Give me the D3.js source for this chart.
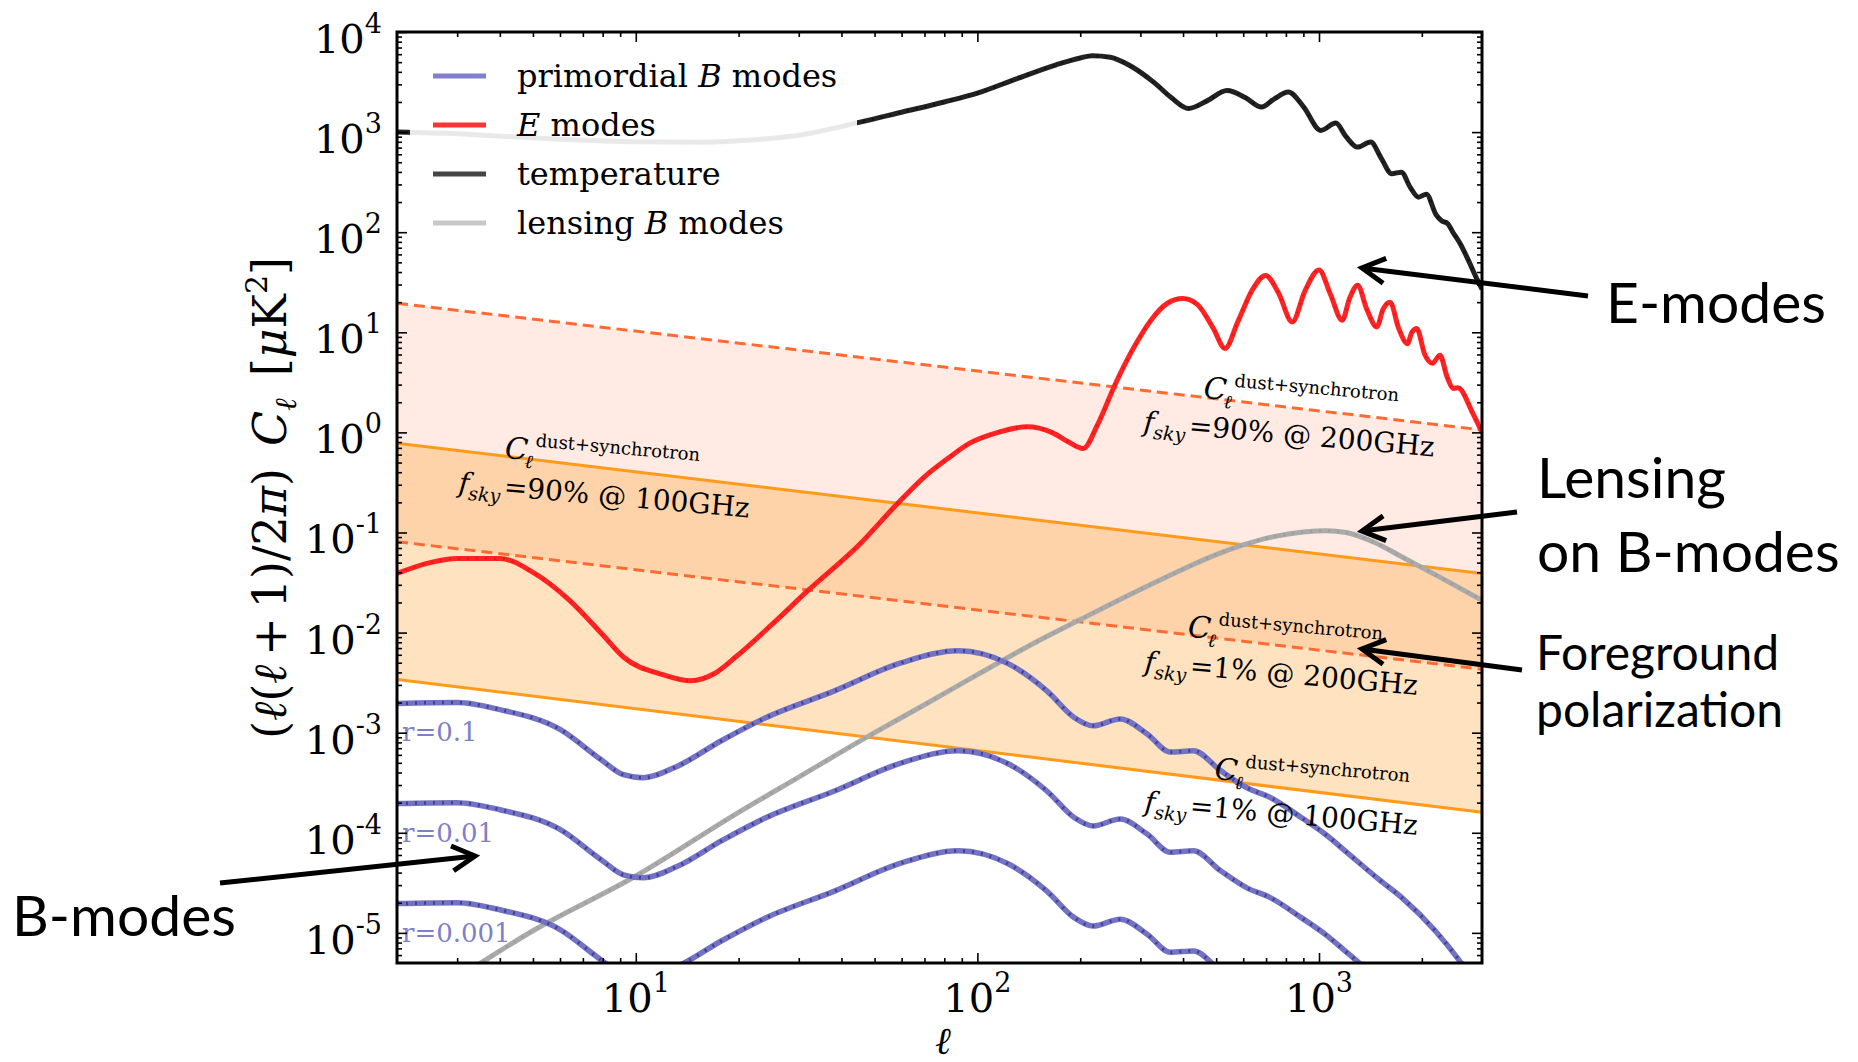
<!DOCTYPE html>
<html>
<head>
<meta charset="utf-8">
<script src="https://cdn.jsdelivr.net/npm/d3@7"></script>
<style>
  body { margin: 0; background: #fff; }
</style>
</head>
<body>
<script>
// spectra: D_l = l(l+1)C_l/2pi in uK^2
const ttEll = [2, 3, 4, 6, 10, 15, 20, 30, 45, 60, 80, 100, 130, 170, 200, 217, 245, 280, 330, 370, 415, 470, 538, 610, 679, 740, 813, 900, 1012, 1120, 1200, 1295, 1417, 1520, 1633, 1742, 1850, 1955, 2062, 2200, 2285, 2380, 2465, 2600, 2740, 2900, 3000];
const ttVal = [1000, 960, 910, 850, 800, 790, 820, 930, 1250, 1580, 2000, 2450, 3400, 4700, 5500, 5800, 5600, 4600, 3100, 2200, 1720, 2050, 2600, 2200, 1780, 2150, 2510, 1800, 1040, 1230, 900, 708, 795, 550, 384, 398, 280, 224, 240, 150, 130, 122, 100, 75, 52, 34, 27];

const eeEll = [2, 2.5, 3, 4, 5, 6.4, 8, 9.2, 12, 14.5, 17, 19.6, 25, 32, 45, 58, 70, 82, 95, 115, 140, 165, 185, 204, 225, 254, 290, 321, 360, 399, 440, 490, 531, 580, 640, 697, 760, 835, 910, 1000, 1080, 1169, 1230, 1297, 1380, 1476, 1540, 1615, 1710, 1815, 1870, 1932, 2040, 2147, 2260, 2370, 2477, 2550, 2820, 3000];
const eeVal = [0.039, 0.05, 0.055, 0.055, 0.040, 0.021, 0.0095, 0.0057, 0.0038, 0.0033, 0.0039, 0.0057, 0.012, 0.0265, 0.075, 0.19, 0.36, 0.55, 0.78, 1.0, 1.14, 1.0, 0.8, 0.69, 1.2, 3.1, 7.5, 13, 19.5, 21.7, 19, 11, 6.9, 13, 27, 37, 25, 12.7, 26, 42, 24, 13.2, 22, 29.5, 17, 11.3, 17, 20, 11, 7.7, 10, 10.9, 6, 4.9, 5.9, 3.6, 2.75, 2.8, 1.55, 1.0];

const lensEll = [2, 3, 5, 10, 20, 30, 50, 70, 100, 150, 200, 300, 400, 500, 600, 750, 900, 1050, 1200, 1450, 1750, 2250, 3000];
const lensVal = [1.7e-6, 3.6e-6, 1.05e-5, 3.7e-5, 1.6e-4, 3.6e-4, 1.0e-3, 1.9e-3, 3.8e-3, 8.2e-3, 0.0135, 0.027, 0.043, 0.06, 0.075, 0.092, 0.101, 0.104, 0.1, 0.08, 0.057, 0.036, 0.021];

const bEll = [2, 3, 4, 6, 7.9, 9.2, 10.5, 13.2, 17.8, 24, 38, 60, 88, 123, 160, 192, 218, 262, 314, 367, 429, 514, 617, 720, 887, 1050, 1211, 1500, 1747, 2188, 2620, 3000];
const bR1 = [1.96e-3, 2.0e-3, 1.7e-3, 1.08e-3, 5.4e-4, 3.8e-4, 3.55e-4, 4.6e-4, 8.3e-4, 1.41e-3, 2.6e-3, 5.0e-3, 6.6e-3, 4.9e-3, 2.6e-3, 1.42e-3, 1.17e-3, 1.37e-3, 9.7e-4, 6.4e-4, 6.6e-4, 4.2e-4, 2.8e-4, 2.25e-4, 1.42e-4, 9.5e-5, 6.3e-5, 3.4e-5, 2.25e-5, 1.05e-5, 4.9e-6, 2.5e-6];
const bR01 = [1.96e-4, 2.0e-4, 1.7e-4, 1.08e-4, 5.4e-5, 3.8e-5, 3.55e-5, 4.6e-5, 8.3e-5, 1.41e-4, 2.6e-4, 5.0e-4, 6.6e-4, 4.9e-4, 2.6e-4, 1.42e-4, 1.17e-4, 1.37e-4, 9.7e-5, 6.4e-5, 6.6e-5, 4.2e-5, 2.8e-5, 2.25e-5, 1.42e-5, 9.5e-6, 6.3e-6, 3.4e-6, 2.25e-6, 1.05e-6, 4.9e-7, 2.5e-7];
const bR001 = [1.96e-5, 2.0e-5, 1.7e-5, 1.08e-5, 5.4e-6, 3.8e-6, 3.55e-6, 4.6e-6, 8.3e-6, 1.41e-5, 2.6e-5, 5.0e-5, 6.6e-5, 4.9e-5, 2.6e-5, 1.42e-5, 1.17e-5, 1.37e-5, 9.7e-6, 6.4e-6, 6.6e-6, 4.2e-6, 2.8e-6, 2.25e-6, 1.42e-6, 9.5e-7, 6.3e-7, 3.4e-7, 2.25e-7, 1.05e-7, 4.9e-8, 2.5e-8];
const rLabels = ["r=0.1", "r=0.01", "r=0.001"];

// foreground power laws, values at the two ends of the l range
const fgEll = [2, 3000];
const fg90at200 = [19.5, 1.06];
const fg90at100 = [0.78, 0.039];
const fg1at200 = [0.081, 0.0043];
const fg1at100 = [0.0034, 0.00016];

const xTicks = [10, 100, 1000];
const yTicks = [1e-5, 1e-4, 1e-3, 1e-2, 1e-1, 1, 10, 100, 1000, 10000];
const yTickExp = ["-5", "-4", "-3", "-2", "-1", "0", "1", "2", "3", "4"];

const legendNames = [["primordial ", "B", " modes"], ["", "E", " modes"], ["temperature", "", ""], ["lensing ", "B", " modes"]];
const legendColors = ["#8080cc", "#ff3333", "#444444", "#c8c8c8"];

const serif = "'DejaVu Serif', 'Liberation Serif', serif";
const sans = "Lato, 'Open Sans', sans-serif";

const W = 1858, H = 1062;
const svg = d3.select("body").append("svg")
    .attr("width", W)
    .attr("height", H)
    .style("background", "#fff");

const x = d3.scaleLog().domain([2, 3000]).range([397, 1482]);
const y = d3.scaleLog().domain([5e-6, 1e4]).range([963, 32]);

svg.append("clipPath").attr("id", "plotclip")
    .append("rect")
    .attr("x", 397).attr("y", 32)
    .attr("width", 1482 - 397).attr("height", 963 - 32);

const plot = svg.append("g").attr("clip-path", "url(#plotclip)");

// foreground bands
function band(top, bottom, color, alpha) {
  const pts = fgEll.map((l, i) => ({l: l, a: top[i], b: bottom[i]}));
  plot.append("path")
      .attr("d", d3.area().x(d => x(d.l)).y0(d => y(d.b)).y1(d => y(d.a))(pts))
      .attr("fill", color)
      .attr("fill-opacity", alpha);
}
band(fg90at200, fg1at200, "#ff4500", 0.11);
band(fg90at100, fg1at100, "#ff8c00", 0.25);

function fgLine(vals, color, dashed) {
  const pts = fgEll.map((l, i) => ({l: l, v: vals[i]}));
  plot.append("path")
      .attr("d", d3.line().x(d => x(d.l)).y(d => y(d.v))(pts))
      .attr("fill", "none")
      .attr("stroke", color)
      .attr("stroke-width", 3)
      .attr("stroke-dasharray", dashed ? "11,6" : null);
}
fgLine(fg90at200, "#ff6a33", true);
fgLine(fg1at200, "#ff6a33", true);
fgLine(fg90at100, "#ff9a1a", false);
fgLine(fg1at100, "#ff9a1a", false);

// spectra
function curve(ell, vals, color, width, dotColor, dotOpacity) {
  const pts = ell.map((l, i) => ({l: l, v: vals[i]}));
  const line = d3.line().x(d => x(d.l)).y(d => y(d.v)).curve(d3.curveMonotoneX);
  plot.append("path")
      .attr("d", line(pts))
      .attr("fill", "none")
      .attr("stroke", color)
      .attr("stroke-width", width)
      .attr("stroke-linejoin", "round");
  if (dotColor) {
    plot.append("path")
        .attr("d", line(pts))
        .attr("fill", "none")
        .attr("stroke", dotColor)
        .attr("stroke-width", width - 2)
        .attr("stroke-opacity", dotOpacity)
        .attr("stroke-dasharray", "2,7");
  }
}

curve(lensEll, lensVal, "#aaaaaa", 5, "#8c8c8c", 0.4);
[bR1, bR01, bR001].forEach(v => curve(bEll, v, "#7373c2", 5.5, "#1e1e8e", 0.6));
curve(eeEll, eeVal, "#ff2424", 5, "#c80000", 0.35);
curve(ttEll, ttVal, "#222222", 5, "#000000", 0.4);

// r labels
svg.selectAll(".rlab").data(rLabels).join("text")
    .attr("class", "rlab")
    .attr("x", 402)
    .attr("y", (d, i) => y(bR1[0] / Math.pow(10, i)) + 38)
    .attr("font-family", "'DejaVu Serif', serif")
    .attr("font-size", 26)
    .attr("fill", "#7f7fc8")
    .text(d => d);

// legend box (semi-transparent, hides the line underneath)
svg.append("rect")
    .attr("x", 410).attr("y", 44)
    .attr("width", 447).attr("height", 206)
    .attr("fill", "#fff")
    .attr("fill-opacity", 0.9);

const legendY = [76, 125, 174, 223];
legendNames.forEach((parts, i) => {
  svg.append("line")
      .attr("x1", 433).attr("x2", 486)
      .attr("y1", legendY[i]).attr("y2", legendY[i])
      .attr("stroke", legendColors[i])
      .attr("stroke-width", 5);
  const t = svg.append("text")
      .attr("x", 517).attr("y", legendY[i] + 11)
      .attr("font-family", serif)
      .attr("font-size", 32)
      .attr("fill", "#000")
      .attr("xml:space", "preserve");
  t.append("tspan").text(parts[0]);
  if (parts[1]) t.append("tspan").attr("font-style", "italic").text(parts[1]);
  if (parts[2]) t.append("tspan").text(parts[2]);
});

// frame and ticks
const axes = svg.append("g");
function minorTicks(lo, hi) {
  const out = [];
  for (let e = lo; e <= hi; e++) {
    for (let m = 2; m <= 9; m++) out.push(m * Math.pow(10, e));
  }
  return out;
}
const xMinor = minorTicks(0, 3).filter(v => v > 2 && v < 3000);
const yMinor = minorTicks(-6, 3).filter(v => v > 5e-6 && v < 1e4);

function tickAxis(axisFn, scale, transform, major, minor) {
  const gMaj = axes.append("g").attr("transform", transform)
      .call(axisFn(scale).tickValues(major).tickSizeInner(-10).tickSizeOuter(0).tickFormat(""));
  const gMin = axes.append("g").attr("transform", transform)
      .call(axisFn(scale).tickValues(minor).tickSizeInner(-5).tickSizeOuter(0).tickFormat(""));
  [gMaj, gMin].forEach(g => {
    g.select(".domain").remove();
    g.selectAll(".tick line").attr("stroke", "#000").attr("stroke-width", 1.6);
  });
}
tickAxis(d3.axisBottom, x, "translate(0,963)", xTicks, xMinor);
tickAxis(d3.axisTop, x, "translate(0,32)", xTicks, xMinor);
tickAxis(d3.axisLeft, y, "translate(397,0)", yTicks, yMinor);
tickAxis(d3.axisRight, y, "translate(1482,0)", yTicks, yMinor);

axes.append("rect")
    .attr("x", 397).attr("y", 32)
    .attr("width", 1482 - 397).attr("height", 963 - 32)
    .attr("fill", "none")
    .attr("stroke", "#000")
    .attr("stroke-width", 3);

// tick labels
svg.selectAll(".xlab").data(xTicks).join("text")
    .attr("class", "xlab")
    .attr("x", d => x(d))
    .attr("y", 1012)
    .attr("text-anchor", "middle")
    .attr("font-family", serif)
    .attr("font-size", 40)
    .each(function(d, i) {
      const t = d3.select(this);
      t.append("tspan").text("10");
      t.append("tspan").attr("font-size", 27).attr("dy", -20).text(String(i + 1));
    });

svg.selectAll(".ylab").data(yTicks).join("text")
    .attr("class", "ylab")
    .attr("x", 382)
    .attr("y", d => y(d) + 21)
    .attr("text-anchor", "end")
    .attr("font-family", serif)
    .attr("font-size", 40)
    .each(function(d, i) {
      const t = d3.select(this);
      t.append("tspan").text("10");
      t.append("tspan").attr("font-size", 27).attr("dy", -20).text(yTickExp[i]);
    });

// axis titles
svg.append("text")
    .attr("x", 943).attr("y", 1054)
    .attr("text-anchor", "middle")
    .attr("font-family", serif)
    .attr("font-style", "italic")
    .attr("font-size", 38)
    .text("ℓ");

const yl = svg.append("text")
    .attr("transform", "translate(286,498) rotate(-90)")
    .attr("text-anchor", "middle")
    .attr("font-family", serif)
    .attr("font-size", 46);
yl.append("tspan").text("(");
yl.append("tspan").attr("font-style", "italic").text("ℓ");
yl.append("tspan").text("(");
yl.append("tspan").attr("font-style", "italic").text("ℓ");
yl.append("tspan").attr("dx", 9).text("+");
yl.append("tspan").attr("dx", 9).text("1)/2");
yl.append("tspan").attr("font-style", "italic").text("π");
yl.append("tspan").text(")");
yl.append("tspan").attr("dx", 22).attr("font-style", "italic").text("C");
yl.append("tspan").attr("font-style", "italic").attr("font-size", 30).attr("dy", 10).text("ℓ");
yl.append("tspan").attr("dx", 22).attr("dy", -10).text("[");
yl.append("tspan").attr("font-style", "italic").text("μ");
yl.append("tspan").text("K");
yl.append("tspan").attr("font-size", 30).attr("dy", -19).text("2");
yl.append("tspan").attr("dy", 19).text("]");

// foreground notes along the lines
function fgNote(x0, y0, cdx, frac, freq) {
  const g = svg.append("g").attr("transform", `translate(${x0},${y0}) rotate(5)`);
  const t1 = g.append("text")
      .attr("x", cdx).attr("y", -38)
      .attr("font-family", serif)
      .attr("font-size", 30);
  t1.append("tspan").attr("font-style", "italic").text("C");
  t1.append("tspan").attr("font-style", "italic").attr("font-size", 19).attr("dx", -2).attr("dy", 8).text("ℓ");
  t1.append("tspan").attr("font-size", 18).attr("dx", 1).attr("dy", -22).text("dust+synchrotron");
  const t2 = g.append("text")
      .attr("x", 0).attr("y", 0)
      .attr("font-family", serif)
      .attr("font-size", 28);
  t2.append("tspan").attr("font-style", "italic").text("f");
  t2.append("tspan").attr("font-style", "italic").attr("font-size", 19).attr("dy", 7).text("sky");
  t2.append("tspan").attr("dx", 3).attr("dy", -7).text("=" + frac + " @ " + freq);
}
fgNote(1143, 431, 57, "90%", "200GHz");
fgNote(458, 492, 43, "90%", "100GHz");
fgNote(1144, 671, 40, "1%", "200GHz");
fgNote(1144, 811, 67, "1%", "100GHz");

// callouts
function arrow(x1, y1, x2, y2) {
  const ang = Math.atan2(y2 - y1, x2 - x1);
  const len = 26, spread = 0.5;
  svg.append("line")
      .attr("x1", x1).attr("y1", y1).attr("x2", x2).attr("y2", y2)
      .attr("stroke", "#000").attr("stroke-width", 5);
  const p1 = [x2 - len * Math.cos(ang - spread), y2 - len * Math.sin(ang - spread)];
  const p2 = [x2 - len * Math.cos(ang + spread), y2 - len * Math.sin(ang + spread)];
  svg.append("polyline")
      .attr("points", [p1, [x2, y2], p2].map(p => p.join(",")).join(" "))
      .attr("fill", "none")
      .attr("stroke", "#000")
      .attr("stroke-width", 5)
      .attr("stroke-linejoin", "miter");
}
arrow(1588, 296, 1362, 268);
arrow(1517, 512, 1362, 531);
arrow(1522, 670, 1362, 649);
arrow(220, 883, 475, 856);

const notes = [
  {t: "E-modes", x: 1606, y: 323, s: 57},
  {t: "Lensing", x: 1537, y: 498, s: 57},
  {t: "on B-modes", x: 1537, y: 572, s: 57},
  {t: "Foreground", x: 1536, y: 670, s: 48},
  {t: "polarization", x: 1536, y: 727, s: 48},
  {t: "B-modes", x: 12, y: 936, s: 57}
];
svg.selectAll(".note").data(notes).join("text")
    .attr("class", "note")
    .attr("x", d => d.x)
    .attr("y", d => d.y)
    .attr("font-family", sans)
    .attr("font-size", d => d.s)
    .attr("fill", "#000")
    .text(d => d.t);
</script>
</body>
</html>
